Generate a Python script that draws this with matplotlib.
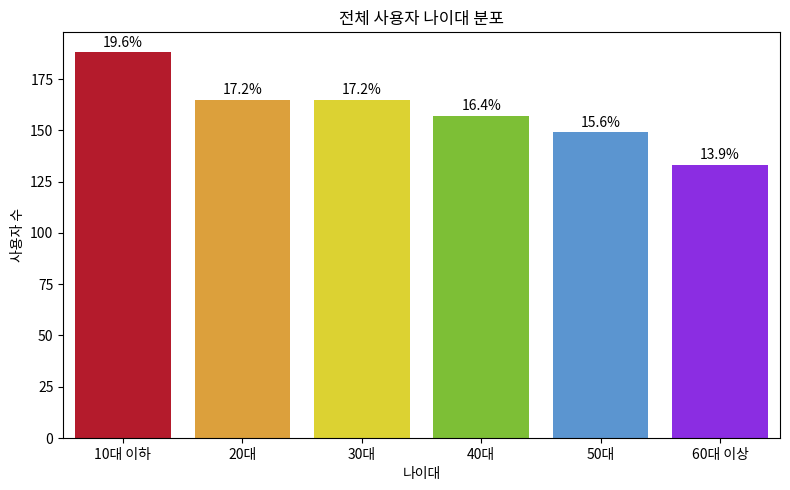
import matplotlib

matplotlib.use("Agg")
import matplotlib.pyplot as plt

plt.rcParams["font.family"] = ["Noto Sans CJK KR", "DejaVu Sans"]
plt.rcParams["axes.unicode_minus"] = False

age_groups = ["10대 이하", "20대", "30대", "40대", "50대", "60대 이상"]
user_counts = [188, 165, 165, 157, 149, 133]
bar_colors = ["#B41B2C", "#DCA03C", "#DCD232", "#7DBF36", "#5B95D0", "#8B2DE2"]

total = sum(user_counts)

fig, ax = plt.subplots(figsize=(7.9, 4.9), dpi=100)
bars = ax.bar(age_groups, user_counts, color=bar_colors, width=0.8)
for b, v in zip(bars, user_counts):
    ax.annotate(f"{v / total * 100:.1f}%", (b.get_x() + b.get_width() / 2, v),
                xytext=(0, 2), textcoords="offset points",
                ha="center", va="bottom", fontsize=10)

ax.set_xlim(-0.5, len(age_groups) - 0.5)
ax.set_ylim(0, 198)
ax.set_title("전체 사용자 나이대 분포", fontsize=12)
ax.set_xlabel("나이대")
ax.set_ylabel("사용자 수")

fig.subplots_adjust(left=0.080, right=0.987, top=0.935, bottom=0.106)
fig.savefig("out.png", dpi=100)
